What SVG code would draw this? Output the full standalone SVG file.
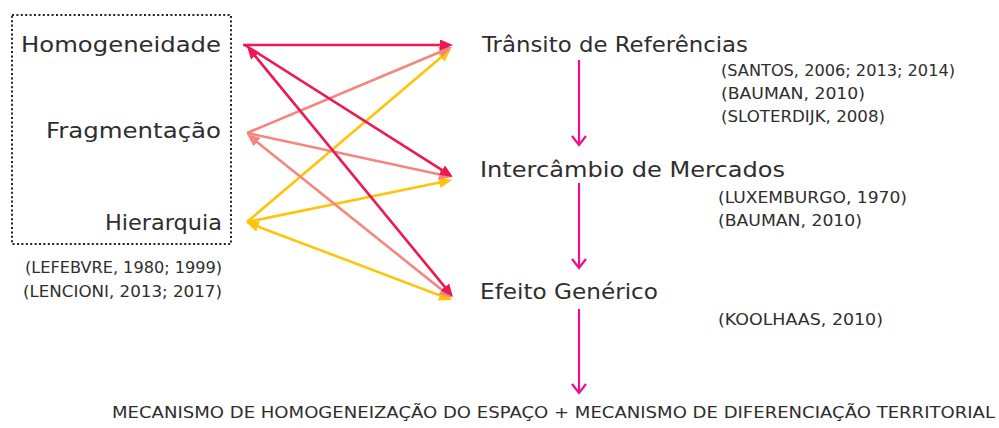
<svg xmlns="http://www.w3.org/2000/svg" width="999" height="428" viewBox="0 0 999 428">
<style>
text{font-family:"DejaVu Sans","Liberation Sans",sans-serif;fill:#2e2e2e}
.lbl{font-size:22px}
.ref{font-size:16px}
.bot{font-size:15px}
.y{stroke:#FFC408;stroke-width:2.6;fill:none}
.s{stroke:#F4857F;stroke-width:2.6;fill:none}
.c{stroke:#EC1A52;stroke-width:2.6;fill:none}
.v{stroke:#EE0F8C;stroke-width:2.2;fill:none}
</style>
<defs>
<marker id="hy" viewBox="0 0 13 11" markerWidth="13" markerHeight="11" refX="9" refY="5.5" markerUnits="userSpaceOnUse" orient="auto-start-reverse"><path d="M0,0 L13,5.5 L0,11 z" fill="#FFC408"/></marker>
<marker id="hs" viewBox="0 0 13 11" markerWidth="13" markerHeight="11" refX="9" refY="5.5" markerUnits="userSpaceOnUse" orient="auto-start-reverse"><path d="M0,0 L13,5.5 L0,11 z" fill="#F4857F"/></marker>
<marker id="hc" viewBox="0 0 13 11" markerWidth="13" markerHeight="11" refX="9" refY="5.5" markerUnits="userSpaceOnUse" orient="auto-start-reverse"><path d="M0,0 L13,5.5 L0,11 z" fill="#EC1A52"/></marker>
</defs>
<g id="grupo-esquerda">
<rect x="12" y="15" width="219" height="229" fill="none" stroke="#222" stroke-width="2" stroke-dasharray="2 2.4"/>
</g>
<g id="homogeneidade"><text class="lbl" x="21" y="52" textLength="200" lengthAdjust="spacingAndGlyphs">Homogeneidade</text></g>
<g id="fragmentacao"><text class="lbl" x="46" y="138" textLength="175" lengthAdjust="spacingAndGlyphs">Fragmentação</text></g>
<g id="hierarquia"><text class="lbl" x="105" y="230" textLength="117" lengthAdjust="spacingAndGlyphs">Hierarquia</text></g>
<g id="refs-esquerda">
<text class="ref" x="25" y="273" textLength="197" lengthAdjust="spacingAndGlyphs">(LEFEBVRE, 1980; 1999)</text>
<text class="ref" x="23" y="297" textLength="199" lengthAdjust="spacingAndGlyphs">(LENCIONI, 2013; 2017)</text>
</g>
<g id="transito">
<text class="lbl" x="482" y="52" textLength="266" lengthAdjust="spacingAndGlyphs">Trânsito de Referências</text>
<text class="ref" x="721" y="76" textLength="234" lengthAdjust="spacingAndGlyphs">(SANTOS, 2006; 2013; 2014)</text>
<text class="ref" x="721" y="99" textLength="144" lengthAdjust="spacingAndGlyphs">(BAUMAN, 2010)</text>
<text class="ref" x="721" y="122" textLength="164" lengthAdjust="spacingAndGlyphs">(SLOTERDIJK, 2008)</text>
</g>
<g id="intercambio">
<text class="lbl" x="480" y="177" textLength="305" lengthAdjust="spacingAndGlyphs">Intercâmbio de Mercados</text>
<text class="ref" x="718" y="203" textLength="189" lengthAdjust="spacingAndGlyphs">(LUXEMBURGO, 1970)</text>
<text class="ref" x="718" y="226" textLength="144" lengthAdjust="spacingAndGlyphs">(BAUMAN, 2010)</text>
</g>
<g id="efeito">
<text class="lbl" x="480" y="299" textLength="178" lengthAdjust="spacingAndGlyphs">Efeito Genérico</text>
<text class="ref" x="718" y="325" textLength="165" lengthAdjust="spacingAndGlyphs">(KOOLHAAS, 2010)</text>
</g>
<g id="mecanismo">
<text class="bot" x="112" y="418" textLength="883" lengthAdjust="spacingAndGlyphs">MECANISMO DE HOMOGENEIZAÇÃO DO ESPAÇO + MECANISMO DE DIFERENCIAÇÃO TERRITORIAL</text>
</g>
<g id="conectores">
<line class="y" x1="247" y1="222" x2="447.9" y2="51.6" marker-end="url(#hy)"/>
<line class="y" x1="247" y1="222" x2="448.1" y2="180.8" marker-end="url(#hy)"/>
<line class="y" x1="249.7" y1="223.4" x2="448.3" y2="298.6" marker-start="url(#hy)" marker-end="url(#hy)"/>
<line class="s" x1="247" y1="133" x2="448.3" y2="48.5" marker-end="url(#hs)"/>
<line class="s" x1="247" y1="133" x2="448.1" y2="176.2" marker-end="url(#hs)"/>
<line class="s" x1="250.1" y1="136.5" x2="448.9" y2="295.5" marker-start="url(#hs)" marker-end="url(#hs)"/>
<line class="c" x1="243" y1="45" x2="449" y2="45" marker-end="url(#hc)"/>
<line class="c" x1="245" y1="45" x2="449.6" y2="174.9" marker-end="url(#hc)"/>
<line class="c" x1="249.5" y1="49.1" x2="450.5" y2="293.9" marker-start="url(#hc)" marker-end="url(#hc)"/>
<path class="v" d="M579,60 V145 M572,136 L579,145 L586,136"/>
<path class="v" d="M579,183 V268 M572,259 L579,268 L586,259"/>
<path class="v" d="M579,309 V393 M572,384 L579,393 L586,384"/>
</g>
</svg>
